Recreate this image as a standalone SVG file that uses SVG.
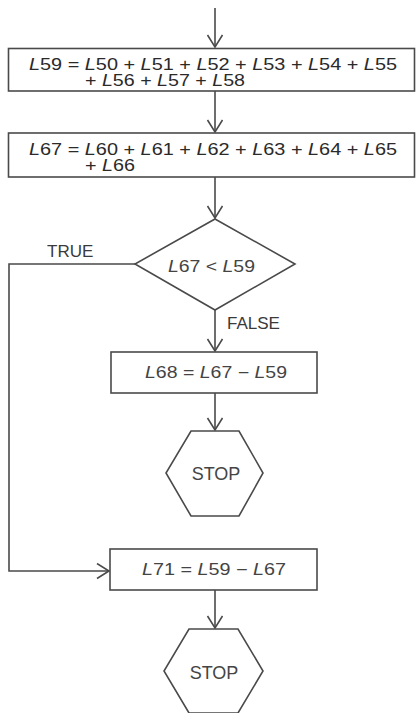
<svg xmlns="http://www.w3.org/2000/svg" width="416" height="713" viewBox="0 0 416 713">
<style>
.shape{fill:#fff;stroke:#4a4a4a;stroke-width:1.6}
.conn{fill:none;stroke:#4a4a4a;stroke-width:1.6}
.t{font-family:"Liberation Sans",Arial,sans-serif;font-size:16px;fill:#2a2a2a}
.lbl{font-family:"Liberation Sans",Arial,sans-serif;font-size:17px;fill:#3a3a3a}
.i{font-style:italic}
</style>
<defs>
<marker id="arr" markerUnits="userSpaceOnUse" markerWidth="16" markerHeight="18" refX="13" refY="8" orient="auto">
<path d="M1,0.5 L13,8 L1,15.5" fill="none" stroke="#4a4a4a" stroke-width="1.6"/>
</marker>
</defs>
<rect width="416" height="713" fill="#fff"/>
<g id="connectors">
<line class="conn" x1="215" y1="8" x2="215" y2="47" marker-end="url(#arr)"/>
<line class="conn" x1="215" y1="91" x2="215" y2="132" marker-end="url(#arr)"/>
<line class="conn" x1="215" y1="177" x2="215" y2="218" marker-end="url(#arr)"/>
<line class="conn" x1="215" y1="310" x2="215" y2="351" marker-end="url(#arr)"/>
<line class="conn" x1="215" y1="393" x2="215" y2="430" marker-end="url(#arr)"/>
<polyline class="conn" points="135,264 9,264 9,571 109,571" marker-end="url(#arr)"/>
<line class="conn" x1="215" y1="590" x2="215" y2="628" marker-end="url(#arr)"/>
<text class="lbl" x="47" y="257">TRUE</text>
<text class="lbl" x="227" y="329">FALSE</text>
</g>
<g id="box1">
<rect class="shape" x="8.5" y="48.5" width="406" height="42.5"/>
<text class="t" x="29" y="70" textLength="368" lengthAdjust="spacingAndGlyphs" xml:space="preserve"><tspan class="i">L</tspan>59 = <tspan class="i">L</tspan>50 + <tspan class="i">L</tspan>51 + <tspan class="i">L</tspan>52 + <tspan class="i">L</tspan>53 + <tspan class="i">L</tspan>54 + <tspan class="i">L</tspan>55</text>
<text class="t" x="85" y="86" textLength="160" lengthAdjust="spacingAndGlyphs" xml:space="preserve">+ <tspan class="i">L</tspan>56 + <tspan class="i">L</tspan>57 + <tspan class="i">L</tspan>58</text>
</g>
<g id="box2">
<rect class="shape" x="8.5" y="133" width="406" height="44"/>
<text class="t" x="29" y="155" textLength="368" lengthAdjust="spacingAndGlyphs" xml:space="preserve"><tspan class="i">L</tspan>67 = <tspan class="i">L</tspan>60 + <tspan class="i">L</tspan>61 + <tspan class="i">L</tspan>62 + <tspan class="i">L</tspan>63 + <tspan class="i">L</tspan>64 + <tspan class="i">L</tspan>65</text>
<text class="t" x="85" y="171" textLength="50" lengthAdjust="spacingAndGlyphs" xml:space="preserve">+ <tspan class="i">L</tspan>66</text>
</g>
<g id="decision">
<polygon class="shape" points="215,219 295,264 215,310 135,264"/>
<text class="t" x="168" y="272" textLength="87" lengthAdjust="spacingAndGlyphs" style="fill:#444"><tspan class="i">L</tspan>67 &lt; <tspan class="i">L</tspan>59</text>
</g>
<g id="box3">
<rect class="shape" x="111" y="352" width="206" height="41"/>
<text class="t" x="145" y="378" textLength="142" lengthAdjust="spacingAndGlyphs" style="fill:#444"><tspan class="i">L</tspan>68 = <tspan class="i">L</tspan>67 − <tspan class="i">L</tspan>59</text>
</g>
<g id="stop1">
<polygon class="shape" points="191,431 239,431 263,473 239,516 191,516 166,473"/>
<text class="lbl" x="216" y="480" text-anchor="middle" style="fill:#444;font-size:18px">STOP</text>
</g>
<g id="box4">
<rect class="shape" x="110" y="549" width="207" height="41"/>
<text class="t" x="142" y="575" textLength="144" lengthAdjust="spacingAndGlyphs" style="fill:#444"><tspan class="i">L</tspan>71 = <tspan class="i">L</tspan>59 − <tspan class="i">L</tspan>67</text>
</g>
<g id="stop2">
<polygon class="shape" points="189,629 238,629 263,671 238,713 189,713 164,671"/>
<text class="lbl" x="214" y="679" text-anchor="middle" style="fill:#444;font-size:18px">STOP</text>
</g>
</svg>
